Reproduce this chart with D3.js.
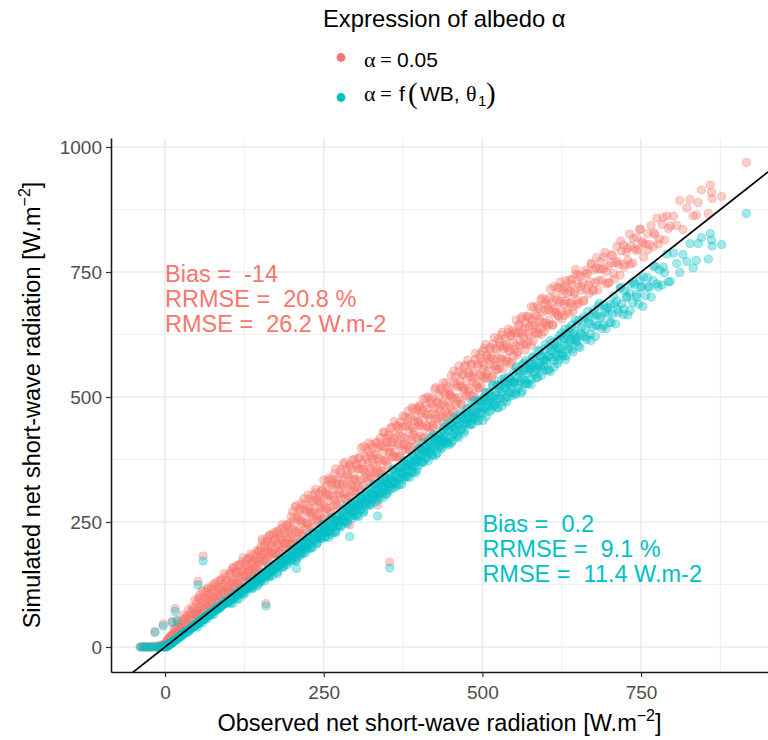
<!DOCTYPE html>
<html><head><meta charset="utf-8">
<script src="https://cdn.jsdelivr.net/npm/d3@7"></script>
<style>body{margin:0;background:#fff}svg text{white-space:pre}</style>
</head><body>
<svg id="chart" width="768" height="740"></svg>
<script>
// ---------- data ----------
const observed = [
-39,-36,-33,-30,-27,-24,-21,-18,-16,-14,-11,-9,-7,-5,-3,-2,-1,
0,1,2,3,4,5,6,7,8,9,10,11,12,13,14,16,16,17,19,19,21,23,25,26,28,30,32,34,36,38,40,42,44,46,48,49,
50,51,52,53,54,55,56,58,59,60,61,62,63,65,66,67,69,70,71,73,74,76,77,79,80,82,83,85,86,88,89,91,92,94,95,97,98,
100,101,102,104,105,106,108,109,110,112,113,114,116,117,118,120,121,122,124,125,126,128,129,130,132,133,134,136,137,138,140,141,142,144,145,146,148,149,
150,151,152,154,155,156,157,158,159,160,161,162,164,165,166,168,169,170,171,173,174,175,177,178,179,181,182,183,185,186,187,189,190,191,193,194,195,197,198,199,
200,201,203,204,205,207,208,209,211,212,213,215,216,217,219,220,221,223,224,225,227,228,229,231,232,233,235,236,237,239,240,241,243,244,245,247,248,249,207,
250,251,253,254,255,257,258,259,261,262,263,265,266,267,269,270,271,273,274,275,277,278,279,281,282,283,285,286,287,289,290,291,293,294,295,297,298,299,291,
300,301,303,304,305,307,308,309,311,312,313,315,316,317,319,320,321,323,324,325,327,328,329,331,332,333,335,336,337,339,340,341,343,344,345,347,348,349,335,
350,351,353,354,355,357,358,359,361,362,363,365,366,367,369,370,371,373,374,375,377,378,379,381,382,383,385,386,387,389,390,391,393,394,395,397,398,399,354,
400,401,403,404,406,407,408,410,411,413,414,415,417,418,420,421,422,424,425,427,428,429,431,432,434,435,436,438,439,441,442,443,445,446,448,449,
450,451,453,454,456,457,459,460,462,463,465,466,468,469,471,472,474,475,477,478,480,481,483,484,486,487,489,490,492,493,495,496,498,499,
500,502,503,505,506,508,509,511,512,514,516,517,519,520,522,523,525,527,528,530,531,533,534,536,538,539,541,542,544,545,547,549,
550,552,553,555,557,558,560,562,563,565,567,568,570,572,573,575,577,578,580,582,583,585,587,588,590,592,593,595,597,599,
600,602,604,605,607,609,611,613,614,616,618,620,621,623,625,627,629,630,632,634,636,638,639,641,643,645,647,649,
650,652,654,656,658,660,662,664,666,668,670,672,674,676,678,680,682,684,686,688,691,693,695,698,
700,702,705,707,710,712,714,717,719,722,724,727,729,732,734,737,740,743,746,749,
751,754,757,760,763,766,769,772,775,779,783,787,791,796,
801,806,811,816,822,827,832,840,
837,845,856,859,861,862,877,916,
1,3,5,7,9,11,13,15,17,19,21,23,25,27,29,31,33,35,37,39,41,43,45,47,49,
51,53,55,57,59,61,63,65,67,69,71,73,75,77,79,81,83,85,87,89,91,93,95,97,99,
101,103,105,107,109,111,113,115,117,119,121,123,125,127,129,131,133,135,137,139,141,143,145,147,149,
151,153,155,157,159,161,163,165,167,169,171,173,175,177,179,181,183,185,187,189,191,193,195,197,199,
201,203,205,207,209,211,213,215,217,219,221,223,225,227,229,231,233,235,237,239,241,243,245,247,249,
251,253,255,257,259,261,263,265,267,269,271,273,275,277,279,281,283,285,287,289,291,293,295,297,299,
301,303,305,307,309,311,313,315,317,319,321,323,325,327,329,331,333,335,337,339,341,343,345,347,349,
351,353,355,357,359,361,363,365,367,369,371,373,375,377,379,381,383,385,387,389,391,393,395,397,399,
401,403,405,407,409,411,413,415,417,419,421,423,425,427,429,431,433,435,437,439,441,443,445,447,449,
451,453,455,457,459,461,463,465,467,469,471,473,475,477,479,481,483,485,487,489,491,493,495,497,499,
501,503,505,507,509,511,513,515,517,519,521,523,525,527,529,531,533,535,537,539,541,543,545,547,549,
551,553,555,557,559,561,563,565,567,569,571,573,575,577,579,581,583,585,587,589,591,593,595,597,599,
601,603,605,607,609,611,613,615,617,619,621,623,625,627,629,631,633,635,637,639,641,643,645,647,649,
651,655,659,663,667,671,675,679,683,687,691,695,699,
703,708,713,718,723,728,733,738,743,748,
753,761,770,777,785,793
];
// simulated net short-wave radiation, albedo = 0.05
const simAlbedoConst = [
0,0,1,0,0,0,0,2,31,0,0,3,0,4,46,0,6,
0,8,4,12,2,15,9,18,6,21,14,51,26,11,30,20,77,36,54,27,40,33,45,38,52,43,58,50,63,55,69,60,74,66,79,71,
88,64,131,97,72,105,80,92,68,182,101,76,110,86,96,118,82,106,92,120,88,113,98,126,94,109,131,100,119,105,136,112,125,108,140,118,131,
122,145,110,152,128,116,158,135,121,147,163,128,140,119,165,150,131,170,142,156,133,174,148,162,139,178,151,167,144,183,158,172,150,187,164,153,192,170,
178,200,165,211,186,172,206,190,87,176,218,195,182,224,201,188,214,179,228,197,216,186,232,205,190,221,236,200,214,193,240,208,226,198,244,215,230,204,249,219,
235,271,216,258,232,283,215,257,273,232,254,288,247,222,275,285,236,268,249,304,278,238,267,290,261,304,253,278,315,262,292,252,307,278,292,255,316,275,178,
334,258,305,322,277,302,338,293,267,324,335,282,315,294,356,326,282,314,339,307,355,297,325,366,307,340,297,356,324,340,299,365,322,357,311,336,375,313,244,
335,307,366,377,322,357,335,398,368,323,355,381,349,397,339,367,408,349,383,338,399,366,382,340,408,362,399,352,377,418,354,401,373,430,352,400,417,371,284,
410,364,398,423,390,439,380,409,451,390,424,380,441,407,424,381,450,404,441,393,419,460,395,444,414,472,394,442,459,413,438,476,431,402,461,473,417,451,170,
444,483,422,468,440,496,420,467,484,440,464,500,456,429,487,498,444,478,457,519,489,445,477,502,471,518,460,489,529,471,504,460,520,488,504,463,
505,543,498,469,529,540,485,520,499,562,532,486,520,545,513,561,503,532,574,513,548,503,565,531,548,505,575,528,566,518,544,585,521,569,
592,538,565,605,547,580,538,596,565,581,542,606,564,597,554,577,616,558,602,575,629,557,602,618,576,599,636,592,566,622,633,582,
628,602,654,584,628,644,603,626,661,620,594,648,660,610,641,622,681,653,612,643,666,637,682,628,656,695,639,671,631,687,
694,641,675,654,716,687,644,676,701,670,718,661,689,730,672,706,663,722,691,707,667,734,689,725,681,706,746,685,
726,688,741,714,729,693,753,715,747,707,730,765,712,754,729,779,714,756,771,733,756,789,751,728,
729,768,783,747,769,801,765,744,792,804,760,790,774,826,802,768,797,819,795,836,
811,780,806,827,805,843,801,825,858,816,845,814,862,842,
862,843,893,835,878,895,862,889,
864,914,867,924,909,897,901,969,
8,7,17,14,22,13,25,37,25,37,28,48,40,32,64,45,58,46,75,63,46,80,66,94,59,
65,98,82,67,113,83,99,81,115,100,80,115,100,127,92,120,103,118,133,96,120,147,112,134,110,
110,147,130,159,122,151,133,149,164,126,150,179,143,165,140,176,156,186,170,154,176,155,193,171,191,
184,216,175,200,172,212,189,223,204,187,211,187,229,205,226,188,217,245,208,233,207,245,227,208,261,
206,244,280,230,262,228,277,252,227,297,249,273,245,296,271,239,293,268,309,254,296,268,290,312,255,
282,308,277,333,305,270,329,301,347,285,332,301,325,349,285,324,369,308,344,302,360,326,374,345,319,
363,331,356,381,316,355,401,339,375,332,391,357,405,376,349,385,348,410,372,404,346,389,429,373,409,
424,389,438,409,382,417,380,443,405,437,378,421,462,405,441,402,458,429,400,479,425,452,419,478,449,
480,443,473,417,459,498,443,478,440,494,466,439,516,463,489,458,514,486,451,510,482,528,466,513,482,
502,473,552,498,525,492,551,522,485,546,517,564,500,549,517,541,566,501,540,587,524,560,518,577,542,
553,597,537,583,553,576,599,538,576,619,561,595,555,610,578,624,597,571,605,571,629,593,623,569,609,
595,628,590,644,612,657,630,606,638,605,662,628,657,604,643,680,629,662,626,677,651,625,698,648,673,
648,683,645,699,671,644,721,668,694,663,719,691,656,715,687,733,671,718,687,711,735,671,710,755,694,
744,721,692,747,724,767,714,758,733,756,780,726,762,
785,736,771,812,765,797,766,817,793,835,
808,794,828,806,859,837
];
// simulated net short-wave radiation, albedo = f(WB, theta1)
const simAlbedoWB = [
0,0,0,0,0,0,0,0,29,0,0,1,0,2,42,0,3,
0,2,0,3,1,4,3,6,5,8,7,49,10,9,12,13,71,15,52,16,18,20,22,24,25,27,29,31,33,34,36,39,40,43,44,46,
45,47,124,49,50,51,52,54,55,172,57,58,59,61,62,63,64,66,66,68,69,71,72,74,75,76,78,79,80,82,83,85,86,88,89,90,92,
91,96,94,97,99,95,101,102,100,104,106,103,108,107,110,109,112,114,105,116,115,118,119,117,121,123,122,125,116,127,126,129,131,130,122,132,135,136,
131,140,138,142,137,145,141,147,82,143,150,146,140,149,155,151,158,153,160,157,163,159,150,161,168,164,170,166,173,160,175,171,178,174,165,176,183,179,172,181,
174,191,182,198,173,192,185,201,192,182,209,199,188,205,197,213,188,209,199,220,208,197,220,214,198,218,227,210,226,217,208,223,237,220,232,218,228,245,157,
246,232,221,240,229,249,219,243,232,257,241,229,255,247,229,253,262,242,261,250,240,257,272,253,267,250,262,282,251,273,260,279,269,288,257,280,271,289,221,
276,262,292,282,261,288,299,275,297,284,272,292,309,286,303,283,296,319,284,307,294,315,303,325,290,315,305,326,313,301,336,321,308,329,317,339,305,332,262,
307,327,345,321,338,318,332,355,318,343,328,352,338,360,325,351,339,362,349,335,373,357,341,365,352,375,339,368,353,384,364,349,381,371,348,377,388,363,158,
385,374,397,383,370,408,391,377,400,387,410,373,404,389,420,400,384,417,407,384,413,424,399,422,409,396,416,435,411,429,407,421,446,408,434,418,
449,408,441,425,459,436,421,455,445,419,451,463,436,461,446,432,455,475,449,467,445,460,487,445,473,456,482,467,493,452,482,469,494,479,
467,497,479,508,461,495,480,509,492,474,523,501,482,511,495,524,478,516,497,535,509,491,530,518,490,525,540,508,537,519,503,530,
528,509,560,538,517,548,531,563,512,553,533,573,546,527,569,556,525,562,579,545,575,556,539,567,592,559,582,553,573,605,
574,553,599,584,551,592,609,573,605,585,567,597,622,587,613,582,603,636,582,619,597,631,611,644,590,629,613,646,
620,653,599,638,622,655,636,615,671,647,625,659,640,674,621,664,643,687,658,637,684,670,637,679,
649,685,666,702,646,692,669,717,686,665,713,699,664,708,726,689,725,705,686,719,
721,740,703,739,719,700,733,762,726,754,724,748,786,731,
788,767,749,785,771,807,758,807,
773,819,776,827,814,802,805,867,
0,1,5,5,8,8,13,13,16,15,19,19,24,22,26,31,28,33,30,37,36,42,41,40,46,
40,53,48,54,48,56,55,63,57,63,70,64,71,65,76,73,82,79,77,85,84,93,86,92,88,
91,87,99,88,97,108,96,107,96,113,106,119,113,109,120,117,131,119,126,119,136,128,138,125,136,
131,148,140,132,147,143,161,143,153,142,165,153,166,147,162,177,159,174,161,174,180,169,190,178,184,
193,179,194,172,189,205,185,202,187,202,207,195,218,205,212,200,229,214,225,206,225,218,236,217,230,
235,220,247,231,239,225,259,241,254,231,253,244,265,242,257,275,252,271,247,278,264,286,274,263,282,
290,265,281,301,275,295,269,303,288,311,298,286,307,300,326,298,312,294,327,308,328,298,320,340,314,
326,313,336,328,356,326,341,322,357,336,357,325,348,370,341,364,341,362,369,350,383,363,372,354,395,
399,370,393,369,390,397,379,412,391,400,383,424,401,417,388,415,403,429,400,418,440,411,433,404,441,
443,412,440,428,455,424,443,467,435,459,428,467,449,477,460,445,470,461,492,458,475,453,492,469,492,
453,498,477,509,489,471,500,489,524,485,504,479,524,497,523,482,510,538,500,529,499,525,533,509,550,
532,505,553,524,552,508,538,567,527,558,526,553,562,536,580,551,563,538,593,562,582,543,578,562,596,
569,581,555,613,580,601,560,597,580,615,574,597,628,586,617,575,627,601,638,615,595,627,615,654,610,
602,627,660,620,653,613,667,643,682,661,643,677,667,
649,686,675,720,676,701,673,730,700,734,
681,721,761,720,760,730
];
const seriesColors = ["#F8766D", "#00BFC4"];
const legendTitle = "Expression of albedo α";
const xTicks = [0, 250, 500, 750];
const yTicks = [0, 250, 500, 750, 1000];
const xMinorTicks = [125, 375, 625, 875];
const yMinorTicks = [125, 375, 625, 875];
const statsConst = ["Bias =  -14", "RRMSE =  20.8 %", "RMSE =  26.2 W.m-2"];
const statsWB = ["Bias =  0.2", "RRMSE =  9.1 %", "RMSE =  11.4 W.m-2"];
const statsAnchorConst = [0, 730];
const statsAnchorWB = [500, 230];

// ---------- drawing ----------
const svg = d3.select("#chart");
const SANS = "'Liberation Sans', Arial, sans-serif";
const SERIF = "'Liberation Serif', 'DejaVu Serif', serif";
const P = {left: 111, right: 768, top: 138, bottom: 672};
const x = d3.scaleLinear().domain([-85.1, 950]).range([P.left, P.right]);
const y = d3.scaleLinear().domain([-50, 1018]).range([P.bottom, P.top]);

svg.append("rect").attr("width", 768).attr("height", 740).attr("fill", "#fff");

const grid = svg.append("g");
grid.selectAll(".vmin").data(xMinorTicks).join("line")
  .attr("x1", d => x(d)).attr("x2", d => x(d)).attr("y1", P.top).attr("y2", P.bottom)
  .attr("stroke", "#EBEBEB").attr("stroke-width", 0.8);
grid.selectAll(".hmin").data(yMinorTicks).join("line")
  .attr("y1", d => y(d)).attr("y2", d => y(d)).attr("x1", P.left).attr("x2", P.right)
  .attr("stroke", "#EBEBEB").attr("stroke-width", 0.8);
grid.selectAll(".vmaj").data(xTicks).join("line")
  .attr("x1", d => x(d)).attr("x2", d => x(d)).attr("y1", P.top).attr("y2", P.bottom)
  .attr("stroke", "#EBEBEB").attr("stroke-width", 1.6);
grid.selectAll(".hmaj").data(yTicks).join("line")
  .attr("y1", d => y(d)).attr("y2", d => y(d)).attr("x1", P.left).attr("x2", P.right)
  .attr("stroke", "#EBEBEB").attr("stroke-width", 1.6);

svg.append("clipPath").attr("id", "panel").append("rect")
  .attr("x", P.left).attr("y", P.top).attr("width", P.right - P.left).attr("height", P.bottom - P.top);

const n = Math.min(observed.length, simAlbedoConst.length, simAlbedoWB.length);
const pts = [];
[simAlbedoConst, simAlbedoWB].forEach((sim, k) => {
  for (let i = 0; i < n; i++) pts.push({o: observed[i], s: sim[i], k});
});
const plot = svg.append("g").attr("clip-path", "url(#panel)");
plot.selectAll("circle").data(pts).join("circle")
  .attr("cx", d => x(d.o)).attr("cy", d => y(d.s)).attr("r", 4.1)
  .attr("fill", d => seriesColors[d.k]).attr("fill-opacity", 0.36)
  .attr("stroke", d => seriesColors[d.k]).attr("stroke-opacity", 0.36).attr("stroke-width", 1);

// 1:1 line
const dom = x.domain();
plot.append("line")
  .attr("x1", x(dom[0])).attr("y1", y(dom[0])).attr("x2", x(dom[1])).attr("y2", y(dom[1]))
  .attr("stroke", "#000").attr("stroke-width", 1.7);

// axes
const xAxis = svg.append("g").attr("transform", `translate(0,${P.bottom})`)
  .call(d3.axisBottom(x).tickValues(xTicks).tickFormat(d3.format("d")).tickSize(5).tickSizeOuter(0).tickPadding(4));
const yAxis = svg.append("g").attr("transform", `translate(${P.left},0)`)
  .call(d3.axisLeft(y).tickValues(yTicks).tickFormat(d3.format("d")).tickSize(5).tickSizeOuter(0).tickPadding(4));
[xAxis, yAxis].forEach(g => {
  g.select(".domain").attr("stroke", "#1a1a1a").attr("stroke-width", 1.6);
  g.selectAll(".tick line").attr("stroke", "#333").attr("stroke-width", 1.2);
  g.selectAll(".tick text").attr("fill", "#4D4D4D").style("font-family", SANS).style("font-size", "19px");
});
xAxis.selectAll(".tick text").attr("dy", "0.95em");
yAxis.selectAll(".tick text").attr("dy", "0.36em");

// axis titles
const xt = svg.append("text").attr("x", (P.left + P.right) / 2).attr("y", 731)
  .attr("text-anchor", "middle").style("font-family", SANS).style("font-size", "23.5px").attr("fill", "#000");
xt.append("tspan").text("Observed net short-wave radiation [W.m");
xt.append("tspan").attr("dy", -10).style("font-size", "16px").text("\u22122");
xt.append("tspan").attr("dy", 10).text("]");

const yt = svg.append("text").attr("transform", `translate(40,${(P.top + P.bottom) / 2}) rotate(-90)`)
  .attr("text-anchor", "middle").style("font-family", SANS).style("font-size", "23.5px").attr("fill", "#000");
yt.append("tspan").text("Simulated net short-wave radiation [W.m");
yt.append("tspan").attr("dy", -10).style("font-size", "16px").text("\u22122");
yt.append("tspan").attr("dy", 10).text("]");

// statistics annotations
function stats(lines, anchor, color) {
  svg.selectAll(null).data(lines).join("text")
    .attr("x", x(anchor[0])).attr("y", (d, i) => y(anchor[1]) + i * 25)
    .style("font-family", SANS).style("font-size", "23.5px").attr("fill", color).text(d => d);
}
stats(statsConst, statsAnchorConst, seriesColors[0]);
stats(statsWB, statsAnchorWB, seriesColors[1]);

// legend
svg.append("text").attr("x", 323).attr("y", 27).style("font-family", SANS).style("font-size", "23.8px")
  .attr("fill", "#000").text(legendTitle);
const rows = [57.5, 97.5];
rows.forEach((cy, i) => {
  svg.append("circle").attr("cx", 341).attr("cy", cy).attr("r", 4.4).attr("fill", seriesColors[i]);
});
// label 1: α = 0.05
const l1 = svg.append("text").attr("y", 67).style("font-family", SANS).style("font-size", "21px").attr("fill", "#000");
l1.append("tspan").attr("x", 364).style("font-family", SERIF).style("font-size", "22px").text("α");
l1.append("tspan").attr("x", 380).style("font-family", SERIF).style("font-size", "21px").text("=");
l1.append("tspan").attr("x", 397).text("0.05");
// label 2: α = f (WB, θ1)
const l2 = svg.append("text").attr("y", 101).style("font-family", SANS).style("font-size", "21px").attr("fill", "#000");
l2.append("tspan").attr("x", 364).style("font-family", SERIF).style("font-size", "22px").text("α");
l2.append("tspan").attr("x", 380).style("font-family", SERIF).style("font-size", "21px").text("=");
l2.append("tspan").attr("x", 399).text("f");
l2.append("tspan").attr("x", 408).attr("dy", 2).style("font-family", SERIF).style("font-size", "29px").text("(");
l2.append("tspan").attr("x", 420).attr("dy", -2).text("WB,");
l2.append("tspan").attr("x", 466).style("font-family", SERIF).style("font-size", "22px").text("θ");
l2.append("tspan").attr("x", 478).attr("dy", 5).style("font-size", "15px").text("1");
l2.append("tspan").attr("x", 486).attr("dy", -3).style("font-family", SERIF).style("font-size", "29px").text(")");
</script>
</body></html>
